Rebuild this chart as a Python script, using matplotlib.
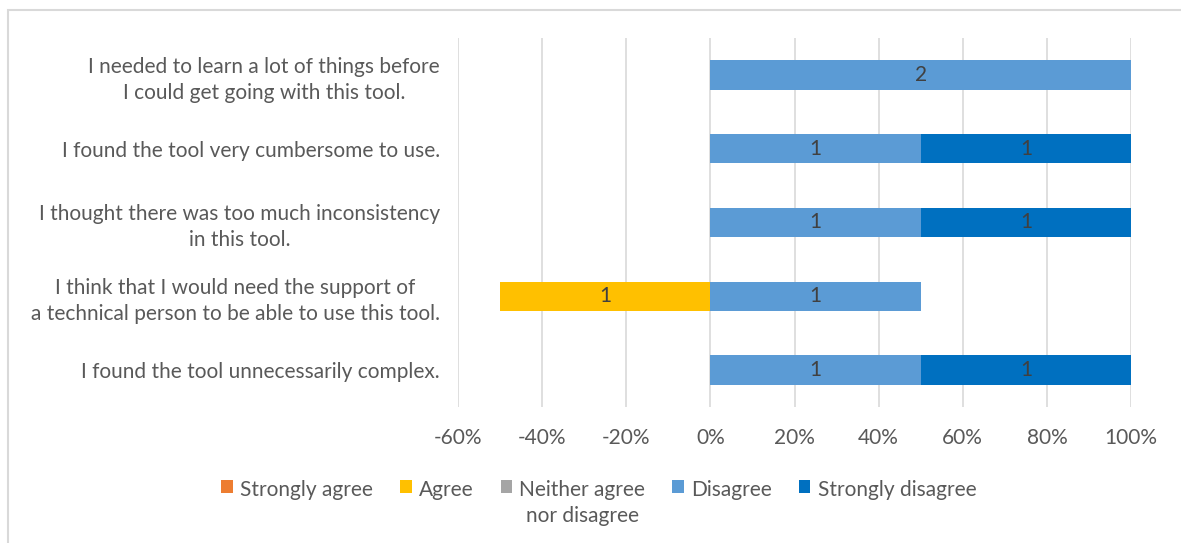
import numpy as np
import matplotlib.pyplot as plt
from matplotlib.patches import Rectangle

plt.rcParams['font.family'] = ['Lato', 'DejaVu Sans']

questions = [
    "I needed to learn a lot of things before\nI could get going with this tool.",
    "I found the tool very cumbersome to use.",
    "I thought there was too much inconsistency\nin this tool.",
    "I think that I would need the support of\na technical person to be able to use this tool.",
    "I found the tool unnecessarily complex.",
]
n_resp = 2
strongly_agree = [0, 0, 0, 0, 0]
agree = [0, 0, 0, 1, 0]
neutral = [0, 0, 0, 0, 0]
disagree = [2, 1, 1, 1, 1]
strongly_disagree = [0, 1, 1, 0, 1]

legend_names = ["Strongly agree", "Agree", "Neither agree\nnor disagree",
                "Disagree", "Strongly disagree"]
colors = ["#ED7D31", "#FFC000", "#A5A5A5", "#5B9BD5", "#0070C0"]
xticks = [-60, -40, -20, 0, 20, 40, 60, 80, 100]

text_col = "#595959"
fs = 15

fig = plt.figure(figsize=(11.81, 5.43), dpi=100)
ax = fig.add_axes([0.3878, 0.2505, 0.5699, 0.6795])

y = np.arange(len(questions))
h = 0.4

def pct(v):
    return np.array(v, dtype=float) / n_resp * 100

sa, ag, ne, di, sd = map(pct, [strongly_agree, agree, neutral, disagree, strongly_disagree])

# agreement goes to the left of zero, disagreement to the right
segments = [
    (-sa, -ag, strongly_agree),
    (-ag, np.zeros_like(ag), agree),
    (ne, np.zeros_like(ne), neutral),
    (di, np.zeros_like(di), disagree),
    (sd, di, strongly_disagree),
]
handles = []
for (width, left, counts), col, name in zip(segments, colors, legend_names):
    bars = ax.barh(y, width, left=left, height=h, color=col, label=name, zorder=3)
    handles.append(bars)
    for b, c in zip(bars, counts):
        if c > 0:
            ax.text(b.get_x() + b.get_width() / 2, b.get_y() + h / 2, str(c),
                    ha='center', va='center', fontsize=fs, color='#404040', zorder=4)

ax.set_ylim(len(questions) - 0.5, -0.5)
ax.set_xlim(-60, 100)
ax.set_xticks(xticks)
ax.set_xticklabels([f"{t}%" for t in xticks])
ax.set_yticks(y)
ax.set_yticklabels(questions, multialignment='center', linespacing=1.35)
ax.tick_params(axis='both', length=0, labelsize=fs, labelcolor=text_col)
ax.tick_params(axis='x', pad=15)
ax.tick_params(axis='y', pad=13)
ax.xaxis.grid(True, color='#D9D9D9', linewidth=1.2, zorder=0)
ax.set_axisbelow(True)
for s in ax.spines.values():
    s.set_visible(False)

leg = fig.legend(handles=handles, labels=legend_names, loc='upper center',
                 bbox_to_anchor=(0.507, 0.150), ncol=5, frameon=False,
                 fontsize=fs, handlelength=0.55, handleheight=0.55,
                 handletextpad=0.35, columnspacing=1.3, labelcolor=text_col)
for t in leg.get_texts():
    t.set_multialignment('center')
    t.set_linespacing(1.35)
# keep markers level with the first line of the two-line entry
leg._legend_handle_box.align = 'top'
for column in leg._legend_handle_box.get_children():
    column.align = 'left'
    for item in column.get_children():
        item.align = 'top'

# chart area frame
fig.add_artist(Rectangle((0.0068, -0.05), 1.2, 0.9816 + 0.05, fill=False,
                         edgecolor='#D9D9D9', linewidth=1.5,
                         transform=fig.transFigure))

fig.savefig("out.png", dpi=100)
